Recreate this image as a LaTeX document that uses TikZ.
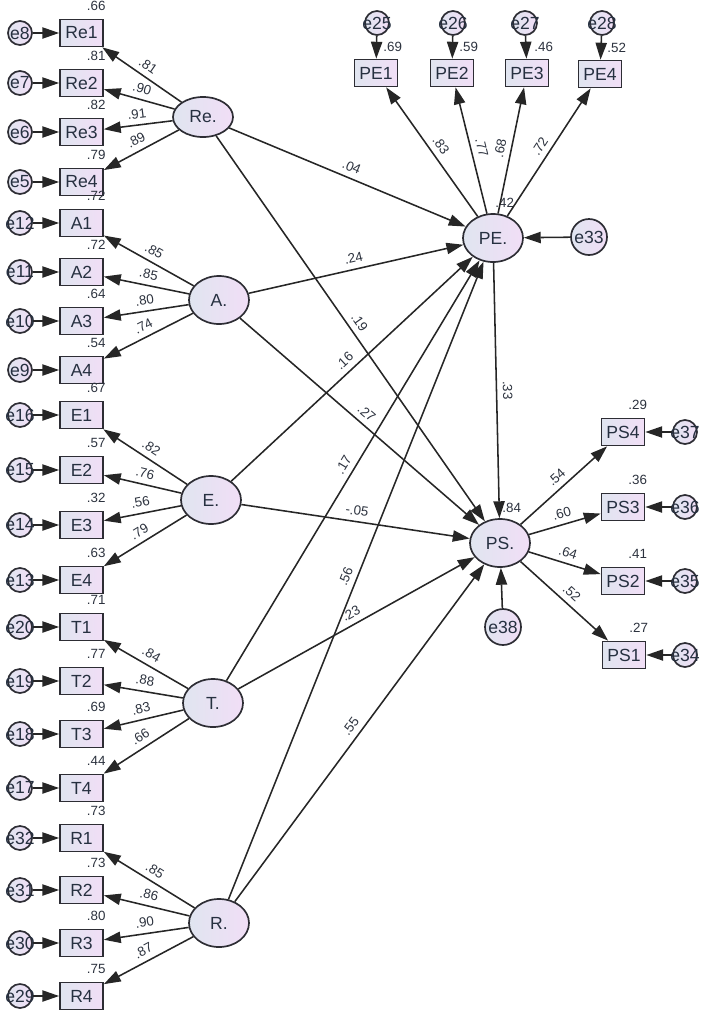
\documentclass[tikz,border=0pt]{standalone}
\usepackage{fontspec}
\setmainfont{Liberation Sans}
\usepackage{tikz}
\usetikzlibrary{shapes.geometric}
\usetikzlibrary{arrows.meta}
\definecolor{fillL}{RGB}{224,229,240}
\definecolor{fillR}{RGB}{241,222,246}
\definecolor{edgec}{RGB}{45,45,52}
\definecolor{txtc}{RGB}{38,48,64}
\definecolor{numc}{RGB}{44,50,62}

\begin{document}
\begin{tikzpicture}[x=0.025cm,y=-0.025cm,
  obs/.style={rectangle,draw=edgec,line width=1.2pt,left color=fillL,right color=fillR,minimum width=1.075cm,minimum height=0.675cm,inner sep=0pt,font=\fontsize{12.5}{14}\selectfont,text=txtc},
  lat/.style={ellipse,draw=edgec,line width=1.2pt,left color=fillL,right color=fillR,minimum width=1.5cm,minimum height=1.2cm,inner sep=0pt,font=\fontsize{12.5}{14}\selectfont,text=txtc},
  err/.style={circle,draw=edgec,line width=1.2pt,left color=fillL,right color=fillR,minimum size=0.6cm,inner sep=0pt,font=\fontsize{12.5}{14}\selectfont,text=txtc,execute at begin node={\hbox to 0pt\bgroup\hss},execute at end node={\hss\egroup}},
  bigerr/.style={err,minimum size=0.9cm},
  arr/.style={draw=black!85,line width=1.1pt,-{Triangle[length=12pt,width=8pt]}},
  coef/.style={font=\fontsize{9.5}{11}\selectfont,text=numc,inner sep=1.5pt},
  ld/.style={coef,inner sep=4pt,pos=0.5,sloped,above},
  varne/.style={coef,anchor=south east,xshift=0.1cm,yshift=0.15cm},
  varn/.style={coef,anchor=south west,xshift=0.125cm,yshift=0.125cm},
  rsq/.style={coef,anchor=south west,yshift=0.075cm}]
\useasboundingbox (0,0) rectangle (706,1015);

\node[lat,minimum height=1.0cm] (Re) at (203,117) {Re.};
\node[lat] (A) at (219,300) {A.};
\node[lat] (E) at (211,500) {E.};
\node[lat] (T) at (213,703) {T.};
\node[lat] (R) at (219,923) {R.};
\node[lat] (PE) at (493,238) {PE.};
\node[lat] (PS) at (500,543) {PS.};
\node[bigerr] (e33) at (589,237) {e33};
\node[bigerr] (e38) at (503,627) {e38};

\node[obs] (Re1) at (81.5,33) {Re1}; \node[err] (e8) at (20,33) {e8}; \node[varne] (vRe1) at (Re1.north east) {.66};
\node[obs] (Re2) at (81.5,83) {Re2}; \node[err] (e7) at (20,83) {e7}; \node[varne] (vRe2) at (Re2.north east) {.81};
\node[obs] (Re3) at (81.5,132) {Re3}; \node[err] (e6) at (20,132) {e6}; \node[varne] (vRe3) at (Re3.north east) {.82};
\node[obs] (Re4) at (81.5,182) {Re4}; \node[err] (e5) at (20,182) {e5}; \node[varne] (vRe4) at (Re4.north east) {.79};
\node[obs] (A1) at (81.5,223) {A1}; \node[err] (e12) at (20,223) {e12}; \node[varne] (vA1) at (A1.north east) {.72};
\node[obs] (A2) at (81.5,272) {A2}; \node[err] (e11) at (20,272) {e11}; \node[varne] (vA2) at (A2.north east) {.72};
\node[obs] (A3) at (81.5,321) {A3}; \node[err] (e10) at (20,321) {e10}; \node[varne] (vA3) at (A3.north east) {.64};
\node[obs] (A4) at (81.5,370) {A4}; \node[err] (e9) at (20,370) {e9}; \node[varne] (vA4) at (A4.north east) {.54};
\node[obs] (E1) at (81.5,415) {E1}; \node[err] (e16) at (20,415) {e16}; \node[varne] (vE1) at (E1.north east) {.67};
\node[obs] (E2) at (81.5,470) {E2}; \node[err] (e15) at (20,470) {e15}; \node[varne] (vE2) at (E2.north east) {.57};
\node[obs] (E3) at (81.5,525) {E3}; \node[err] (e14) at (20,525) {e14}; \node[varne] (vE3) at (E3.north east) {.32};
\node[obs] (E4) at (81.5,580) {E4}; \node[err] (e13) at (20,580) {e13}; \node[varne] (vE4) at (E4.north east) {.63};
\node[obs] (T1) at (81.5,627) {T1}; \node[err] (e20) at (20,627) {e20}; \node[varne] (vT1) at (T1.north east) {.71};
\node[obs] (T2) at (81.5,681) {T2}; \node[err] (e19) at (20,681) {e19}; \node[varne] (vT2) at (T2.north east) {.77};
\node[obs] (T3) at (81.5,734) {T3}; \node[err] (e18) at (20,734) {e18}; \node[varne] (vT3) at (T3.north east) {.69};
\node[obs] (T4) at (81.5,788) {T4}; \node[err] (e17) at (20,788) {e17}; \node[varne] (vT4) at (T4.north east) {.44};
\node[obs] (R1) at (81.5,838) {R1}; \node[err] (e32) at (20,838) {e32}; \node[varne] (vR1) at (R1.north east) {.73};
\node[obs] (R2) at (81.5,890) {R2}; \node[err] (e31) at (20,890) {e31}; \node[varne] (vR2) at (R2.north east) {.73};
\node[obs] (R3) at (81.5,943) {R3}; \node[err] (e30) at (20,943) {e30}; \node[varne] (vR3) at (R3.north east) {.80};
\node[obs] (R4) at (81.5,996) {R4}; \node[err] (e29) at (20,996) {e29}; \node[varne] (vR4) at (R4.north east) {.75};

\node[obs] (PE1) at (376,73) {PE1}; \node[err] (e25) at (377,23) {e25}; \node[varn] (vPE1) at (PE1.north) {.69};
\node[obs] (PE2) at (452,73) {PE2}; \node[err] (e26) at (453,23) {e26}; \node[varn] (vPE2) at (PE2.north) {.59};
\node[obs] (PE3) at (527,73) {PE3}; \node[err] (e27) at (525,23) {e27}; \node[varn] (vPE3) at (PE3.north) {.46};
\node[obs] (PE4) at (600,74) {PE4}; \node[err] (e28) at (602,23) {e28}; \node[varn] (vPE4) at (PE4.north) {.52};
\node[obs] (PS4) at (623,432) {PS4}; \node[err] (e37) at (685,432) {e37}; \node[varne] (vPS4) at (PS4.north east) {.29};
\node[obs] (PS3) at (623,507) {PS3}; \node[err] (e36) at (685,507) {e36}; \node[varne] (vPS3) at (PS3.north east) {.36};
\node[obs] (PS2) at (623,581) {PS2}; \node[err] (e35) at (685,581) {e35}; \node[varne] (vPS2) at (PS2.north east) {.41};
\node[obs] (PS1) at (624,655) {PS1}; \node[err] (e34) at (685,655) {e34}; \node[varne] (vPS1) at (PS1.north east) {.27};
\node[rsq] (vPE) at (PE.north) {.42};
\node[rsq] (vPS) at (PS.north) {.84};

\draw[arr] (e8) -- (Re1); \draw[arr] (Re) -- node[ld] (lRe1) {.81} (Re1);
\draw[arr] (e7) -- (Re2); \draw[arr] (Re) -- node[ld] (lRe2) {.90} (Re2);
\draw[arr] (e6) -- (Re3); \draw[arr] (Re) -- node[ld] (lRe3) {.91} (Re3);
\draw[arr] (e5) -- (Re4); \draw[arr] (Re) -- node[ld] (lRe4) {.89} (Re4);
\draw[arr] (e12) -- (A1); \draw[arr] (A) -- node[ld] (lA1) {.85} (A1);
\draw[arr] (e11) -- (A2); \draw[arr] (A) -- node[ld] (lA2) {.85} (A2);
\draw[arr] (e10) -- (A3); \draw[arr] (A) -- node[ld] (lA3) {.80} (A3);
\draw[arr] (e9) -- (A4); \draw[arr] (A) -- node[ld] (lA4) {.74} (A4);
\draw[arr] (e16) -- (E1); \draw[arr] (E) -- node[ld] (lE1) {.82} (E1);
\draw[arr] (e15) -- (E2); \draw[arr] (E) -- node[ld] (lE2) {.76} (E2);
\draw[arr] (e14) -- (E3); \draw[arr] (E) -- node[ld] (lE3) {.56} (E3);
\draw[arr] (e13) -- (E4); \draw[arr] (E) -- node[ld] (lE4) {.79} (E4);
\draw[arr] (e20) -- (T1); \draw[arr] (T) -- node[ld] (lT1) {.84} (T1);
\draw[arr] (e19) -- (T2); \draw[arr] (T) -- node[ld] (lT2) {.88} (T2);
\draw[arr] (e18) -- (T3); \draw[arr] (T) -- node[ld] (lT3) {.83} (T3);
\draw[arr] (e17) -- (T4); \draw[arr] (T) -- node[ld] (lT4) {.66} (T4);
\draw[arr] (e32) -- (R1); \draw[arr] (R) -- node[ld] (lR1) {.85} (R1);
\draw[arr] (e31) -- (R2); \draw[arr] (R) -- node[ld] (lR2) {.86} (R2);
\draw[arr] (e30) -- (R3); \draw[arr] (R) -- node[ld] (lR3) {.90} (R3);
\draw[arr] (e29) -- (R4); \draw[arr] (R) -- node[ld] (lR4) {.87} (R4);

\draw[arr] (e25) -- (PE1); \draw[arr] (PE) -- node[ld] (lPE1) {.83} (PE1);
\draw[arr] (e26) -- (PE2); \draw[arr] (PE) -- node[ld] (lPE2) {.77} (PE2);
\draw[arr] (e27) -- (PE3); \draw[arr] (PE) -- node[ld] (lPE3) {.68} (PE3);
\draw[arr] (e28) -- (PE4); \draw[arr] (PE) -- node[ld] (lPE4) {.72} (PE4);
\draw[arr] (e37) -- (PS4); \draw[arr] (PS) -- node[ld] (lPS4) {.54} (PS4);
\draw[arr] (e36) -- (PS3); \draw[arr] (PS) -- node[ld] (lPS3) {.60} (PS3);
\draw[arr] (e35) -- (PS2); \draw[arr] (PS) -- node[ld] (lPS2) {.64} (PS2);
\draw[arr] (e34) -- (PS1); \draw[arr] (PS) -- node[ld] (lPS1) {.52} (PS1);

\draw[arr] (Re) -- node[ld] (bRePE) {.04} (PE);
\draw[arr] (A) -- node[ld] (bAPE) {.24} (PE);
\draw[arr] (E) -- node[ld] (bEPE) {.16} (PE);
\draw[arr] (T) -- node[ld] (bTPE) {.17} (PE);
\draw[arr] (R) -- node[ld] (bRPE) {.56} (PE);
\draw[arr] (Re) -- node[ld] (bRePS) {.19} (PS);
\draw[arr] (A) -- node[ld] (bAPS) {.27} (PS);
\draw[arr] (E) -- node[ld] (bEPS) {-.05} (PS);
\draw[arr] (T) -- node[ld] (bTPS) {.23} (PS);
\draw[arr] (R) -- node[ld] (bRPS) {.55} (PS);
\draw[arr] (PE) -- node[ld] (bPEPS) {.33} (PS);
\draw[arr] (e33) -- (PE);
\draw[arr] (e38) -- (PS);

\end{tikzpicture}
\end{document}
